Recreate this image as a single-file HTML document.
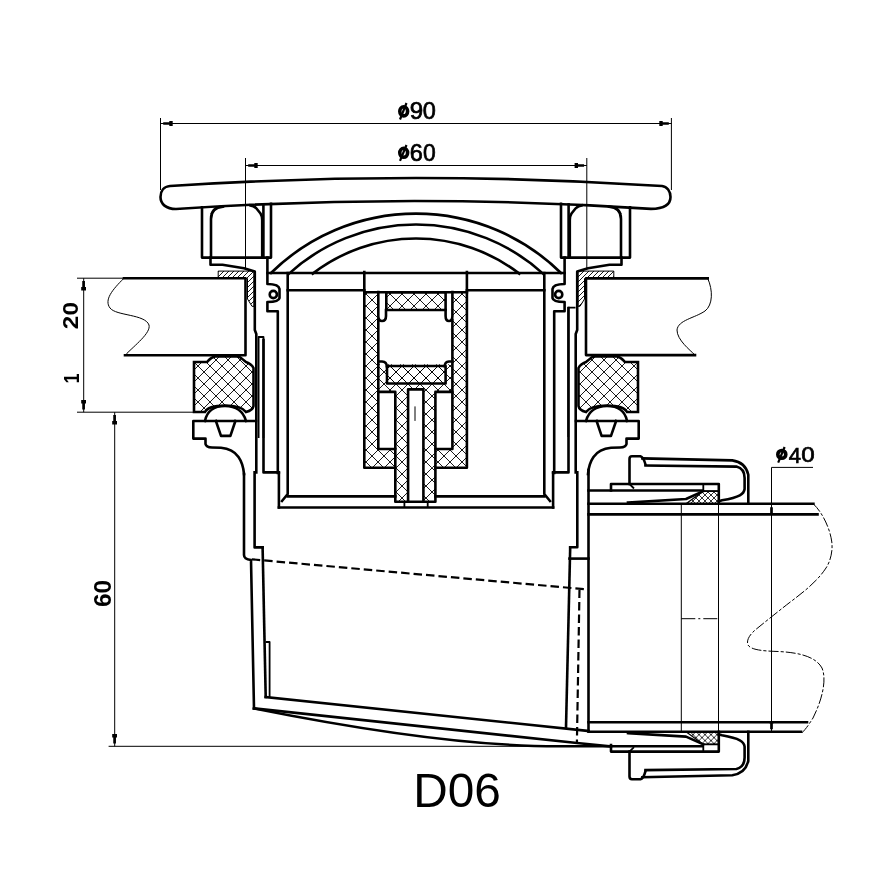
<!DOCTYPE html>
<html><head><meta charset="utf-8"><style>
html,body{margin:0;padding:0;background:#fff;width:881px;height:881px;overflow:hidden}
svg{display:block}
.k{fill:none;stroke:#000;stroke-width:2.6;stroke-linejoin:round;stroke-linecap:square}
.m{fill:none;stroke:#000;stroke-width:1.8;stroke-linejoin:round}
.t{fill:none;stroke:#000;stroke-width:1}
.d{fill:none;stroke:#000;stroke-width:2.2;stroke-dasharray:8.5 4}
text{font-family:"Liberation Sans",sans-serif;fill:#000}
svg{will-change:transform}
</style></head><body>
<svg width="881" height="881" viewBox="0 0 881 881">
<defs>
<pattern id="xh" width="12" height="12" patternUnits="userSpaceOnUse"><path d="M0,0L12,12M12,0L0,12M-1,11L1,13M11,-1L13,1" stroke="#000" stroke-width="0.9" fill="none"/></pattern>
<pattern id="xs" width="10" height="10" patternUnits="userSpaceOnUse"><path d="M0,0L10,10M10,0L0,10" stroke="#000" stroke-width="0.9" fill="none"/></pattern>
<pattern id="xf" width="6" height="6" patternUnits="userSpaceOnUse"><path d="M0,0L6,6M6,0L0,6" stroke="#000" stroke-width="0.8" fill="none"/></pattern>
<pattern id="hh" width="5" height="5" patternUnits="userSpaceOnUse"><path d="M-1,6L6,-1M-1,1L1,-1M4,6L6,4" stroke="#000" stroke-width="0.9" fill="none"/></pattern>
</defs>

<!-- ===== dimensions ===== -->
<g class="t">
<path d="M160.5,118V190M671.4,118V190"/>
<path d="M160.5,123.5H671.5"/>
<path d="M245.5,158V268.5M586.8,158V268.5"/>
<path d="M245.5,165.5H586.8"/>
<path d="M77,278.2H124M77,412.2H194M83.7,278.2V412.2"/>
<path d="M114.7,412.2V746.3M108.6,746.3H548"/>
<path d="M771.5,467.4V733M771.5,467.4H813"/>
</g>
<g fill="#000">
<path d="M163.2,122.15H169.3V121.10H172.7V125.90H169.3V124.85H163.2Z"/>
<path d="M668.8,122.15H662.7V121.10H659.3V125.90H662.7V124.85H668.8Z"/>
<path d="M248.2,164.15H254.3V163.10H257.7V167.90H254.3V166.85H248.2Z"/>
<path d="M584.1,164.15H578.0V163.10H574.6V167.90H578.0V166.85H584.1Z"/>
<path d="M82.25,281.0V287.1H81.20V290.5H86.00V287.1H84.95V281.0Z"/>
<path d="M82.25,409.5V403.4H81.20V400.0H86.00V403.4H84.95V409.5Z"/>
<path d="M113.25,414.9V421.0H112.20V424.4H117.00V421.0H115.95V414.9Z"/>
<path d="M113.25,743.6V737.5H112.20V734.1H117.00V737.5H115.95V743.6Z"/>
<path d="M770.15,507.2V513.3H769.10V514.0H773.90V513.3H772.85V507.2Z"/>
<path d="M770.15,729.3V723.2H769.10V722.5H773.90V723.2H772.85V729.3Z"/>
</g>
<text stroke="#000" stroke-width="0.7" transform="translate(409.79,119.36) scale(1.020,1)" font-size="23.66" font-weight="normal">9</text>
<text stroke="#000" stroke-width="0.7" transform="translate(422.86,119.36) scale(0.995,1)" font-size="23.66" font-weight="normal">0</text>
<text stroke="#000" stroke-width="0.7" transform="translate(409.83,160.56) scale(0.981,1)" font-size="23.94" font-weight="normal">6</text>
<text stroke="#000" stroke-width="0.7" transform="translate(422.88,160.56) scale(0.957,1)" font-size="23.94" font-weight="normal">0</text>
<text stroke="#000" stroke-width="0.7" transform="translate(788.76,462.50) scale(1.005,1)" font-size="21.86" font-weight="normal">4</text>
<text stroke="#000" stroke-width="0.7" transform="translate(801.13,462.28) scale(1.121,1)" font-size="21.55" font-weight="normal">0</text>
<text transform="translate(413.18,807.21) scale(0.975,1)" font-size="49.01" font-weight="normal">D06</text>
<text transform="translate(78.48,329.13) rotate(-90) scale(1.107,1)" font-size="21.97" font-weight="bold">20</text>
<text transform="translate(78.70,383.39) rotate(-90) scale(0.800,1)" font-size="22.61" font-weight="bold">1</text>
<text transform="translate(110.86,606.98) rotate(-90) scale(1.022,1)" font-size="23.94" font-weight="bold">60</text>

<g fill="none" stroke="#000">
<ellipse cx="403.7" cy="111.3" rx="3.9" ry="4.6" stroke-width="3.6"/>
<path d="M400,119.5L406.5,103" stroke-width="2.2"/>
<ellipse cx="403.7" cy="152.8" rx="3.9" ry="4.5" stroke-width="3.6"/>
<path d="M400,160.8L406.5,145" stroke-width="2.2"/>
<ellipse cx="781.8" cy="454.4" rx="4" ry="3.9" stroke-width="3.6"/>
<path d="M778.2,462.7L784.6,447" stroke-width="2.2"/>
</g>
<!-- ===== lid ===== -->
<path class="k" d="M170,186Q416,170 662,186C667,186.5 670.5,191 670.5,197C670.5,203.5 665,208.7 651,208.9Q413.5,193 176,209C166,209 160.5,204 160.5,197C160.5,191 164,186.5 170,186Z"/>

<!-- ===== dome ===== -->
<path class="k" d="M271,273A206.7,206.7 0 0 1 561,273"/>
<path class="k" d="M289,273.6A188.8,188.8 0 0 1 543,273.6"/>
<path class="k" d="M312.7,273.6A169.6,169.6 0 0 1 519.3,273.6"/>
<path class="k" d="M267.5,273H564.5"/>
<path class="k" d="M287.7,290.3H364.3M466.9,290.3H544.3"/>

<!-- ===== symmetric left half (mirrored for right) ===== -->
<g id="half">
 <!-- bracket under lid -->
 <path class="k" d="M202,207.3V257.6H271V203.9"/>
 <path class="k" d="M263.4,204.4V257.6"/>
 <path class="k" d="M211,257.6V219Q211,207.3 223,206.6M250.5,205.2Q254,205.5 256.5,208.5L260.5,213.5Q262.2,216 262.2,220V257.6"/>
 <path class="m" d="M211,214L217,207"/>
 <!-- flange of body -->
 <path class="k" d="M210.5,257.6V264.8H222.5L244,268.2L254.8,271.6V330L256.3,334V472.4"/>
 <!-- gasket crosshatch -->
 <path d="M194,362H207C209,360 211,357 215,356.5H238C241,357 243,360 246,362C249,363 252,365 253.5,368V406C253,409 250,411 246,412C243,408 235,405.5 225,405.5C215,405.5 207,408 205,412H194Z" fill="url(#xh)" stroke="#000" stroke-width="2.6"/>
 <!-- flange nut -->
 <path class="k" d="M256,421H193.3V438.6H205.5V444C206,446.5 208,447.3 212,447.5L221,447.8C229,448.5 235,452 238.5,457C242,462 243.5,468 244,474"/>
 <path class="k" d="M205,421C207,410 216,406 225,406C234,406 243,410 246,421"/>
 <path class="k" d="M215.9,421L221,435.9H230.4L235.4,421"/>
 <!-- grate tail with O-ring -->
 <path class="k" d="M267.4,257.6V284C272,284 279,285 279.5,289V298C279,301.5 273,302 267.4,302V311.2H277.8V473"/>
 <circle cx="273.3" cy="294.5" r="3.6" class="k"/>
 <!-- inner cup wall -->
 <path class="k" d="M287.7,273V494L282,501"/>
 <path class="k" d="M278.9,473V507.5"/>
</g>
<use href="#half" transform="translate(832,0) scale(-1,1)"/>

<!-- hatched seals -->
<path d="M218.2,271.1H254V306.3H252L247.5,299V278.5H218.2Z" fill="url(#hh)" stroke="#000" stroke-width="1"/>
<path d="M613.8,271.1H578V306.3H580L584.5,299V278.5H613.8Z" fill="url(#hh)" stroke="#000" stroke-width="1"/>
<!-- sleeves -->
<path class="m" d="M258.6,438V337H263.5V438"/>
<path class="k" d="M263.5,340V472.4H278.9"/>
<path class="m" d="M575.5,307.7H568.3V437"/>
<path class="k" d="M568.5,308V472.4H553.1"/>
<!-- ===== inner cup bottom ===== -->
<path class="k" d="M287.7,496.4H395.3M435.4,496.4H544.3"/>
<path class="k" d="M278.9,507.5H553.1"/>

<!-- ===== stem ===== -->
<rect x="364.3" y="292.3" width="102.6" height="175.4" fill="url(#xh)"/>
<rect x="395.3" y="467.7" width="40.1" height="34" fill="url(#xh)"/>
<rect x="378.3" y="292.3" width="74.1" height="72" fill="#fff"/>
<path class="k" d="M364.3,272V467.7H395.3M466.9,272V467.7H435.4"/>
<path class="k" d="M364.3,292.3H466.9"/>
<rect x="386.3" y="292.3" width="59.3" height="17.7" class="k" style="fill:url(#xh)"/>
<path class="k" d="M378.3,292V316Q378.3,321 382,321Q386,321 386,316V310M452.4,292V316Q452.4,321 449,321Q445.6,321 445.6,316V310"/>
<path class="k" d="M378.3,320V392M452.4,320V392"/>
<path class="k" d="M378.3,361.5H382Q386.8,362 386.8,366.3M452.4,361.5H449Q444.7,362 444.7,366.3"/>
<rect x="387" y="366" width="58.6" height="17.5" class="k" style="fill:url(#xh)"/>
<rect x="378.3" y="391.9" width="17" height="57.1" class="k" style="fill:#fff"/>
<rect x="435.4" y="391.9" width="17" height="57.1" class="k" style="fill:#fff"/>
<path class="k" d="M395.3,449V501.7H435.4V449"/>
<rect x="408.1" y="389.4" width="15.3" height="112.3" class="k" style="fill:#fff"/>
<path class="m" d="M404.4,501.7V507M427.7,501.7V507"/>
<path class="t" d="M415,406.4V420.9"/>

<!-- ===== lower body left ===== -->
<path class="k" d="M244,474V555C244,558 246.5,559.5 251,560L254,708.4"/>
<path class="k" d="M254.6,472.4V547.4H262.6"/>
<path class="k" d="M262.6,547.4L265.7,697"/>
<path class="m" d="M265.7,642H269.6V697"/>
<path class="k" d="M265.7,697L588.5,731"/>
<path class="k" d="M254,708.4L577,743L611,746.5"/>
<path class="k" d="M254,708.4Q444,746.5 560,746.3H701.7"/>
<path class="d" d="M251.7,559.3L588,589.5M579.5,589.5L576.9,743"/>

<!-- ===== lower body right ===== -->
<path class="k" d="M577.3,472.4V547.3H570.2"/>
<path class="k" d="M570.2,547.3L566,727.5"/>
<path class="k" d="M588.5,470V731"/>
<path class="k" d="M569.5,558.6H588.5"/>

<!-- ===== outlet pipe ===== -->
<path class="k" d="M588.5,490.5H701.7"/>
<path class="k" d="M588.5,503.8H813.4M588.5,514.4H817.5"/>
<path class="k" d="M588.5,722.3H807M588.5,731.8H801"/>
<path class="t" d="M681.3,504V732M718.5,504V732"/>
<path class="t" d="M681.3,618.7H718.5" stroke-dasharray="14 3 2 3"/>
<path class="t" d="M813.4,504C822,512 830,528 831.8,542C833,552 830,562 826,568C815,585 795,598 783,607.7C775,614 765,622 757,628.5C750,634 746,640 748,645C751,650 763,651 778,651.5C800,652.5 816,657 822,668C827,680 822,700 813,718C808,726 805,730 801,733.7" stroke-dasharray="10 2 3 2"/>

<!-- nut (top) mirrored for bottom -->
<g id="nut">
 <path class="k" d="M629.5,484V459Q629.5,456.3 632,456.3H640.4Q643.5,457 645.5,464.5"/>
 <path class="m" d="M629.5,484L634,488.5"/>
 <path class="k" d="M642.4,458.4L732.3,460.4C740,461.5 746,465 748.3,474.7V503.8"/>
 <path class="k" d="M645.5,465.5L736.4,466.6C742,468 744.6,472 744.6,478V489C744,494 740,497 722,500.3L718.8,501.3"/>
 <path class="k" d="M611,490.5V484H718.8V503.8"/>
 <path class="m" d="M703.3,484V491.2H718.8"/>
 <path d="M686,503.8L703.3,491.2H718.8V503.8Z" style="fill:url(#xf)" stroke="#000" stroke-width="1.2"/>
 <path class="k" d="M628,502.5L686,499L703.3,491.2"/>
</g>
<use href="#nut" transform="translate(0,1235.6) scale(1,-1)"/>

<!-- slab breaks -->
<path class="k" d="M124,278.2H245.5V355.3H125"/>
<path class="t" d="M124,278.2C112,290 104,300 110,308C116,316 145,314 149,325C151,333 135,345 125,355.3"/>
<path class="k" d="M707.7,278.4H586V355.1H695"/>
<path class="t" d="M707.7,278.4C713,290 713,305 705,311C695,318 678,320 677,330C677,340 690,350 695,355.1"/>
</svg>
</body></html>
